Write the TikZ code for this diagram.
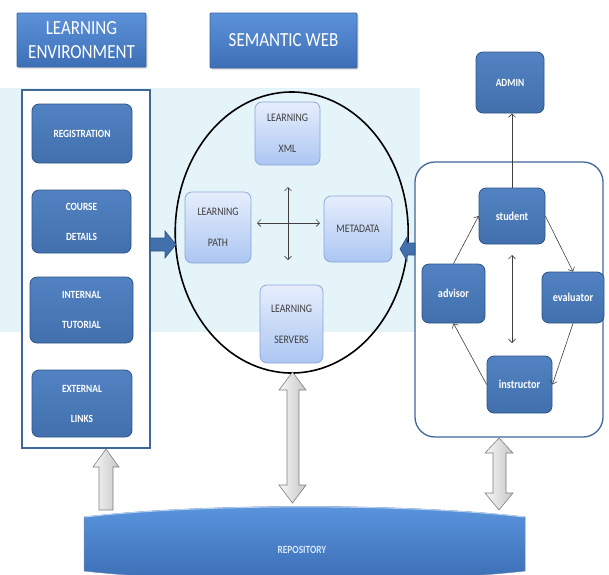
\documentclass[tikz,border=0pt]{standalone}
\usepackage{fontspec}
\setmainfont{Carlito}
\newfontfamily\cf[FakeStretch=0.85]{Carlito}
\usetikzlibrary{arrows.meta,shadows,calc,shapes.geometric}
\definecolor{titletop}{HTML}{5C92DA}
\definecolor{titlebot}{HTML}{3D6FB6}
\definecolor{titleedge}{HTML}{3A62A0}
\definecolor{dtop}{HTML}{5282C2}
\definecolor{dbot}{HTML}{4270AD}
\definecolor{dedge}{HTML}{2E5487}
\definecolor{ltop}{HTML}{E6EEFC}
\definecolor{lbot}{HTML}{ACC6F2}
\definecolor{ledge}{HTML}{8AA6D8}
\definecolor{framec}{HTML}{41669C}
\definecolor{txtd}{HTML}{3F3F3F}
\definecolor{lnk}{HTML}{404040}
\definecolor{bgc}{HTML}{E5F4F8}
\definecolor{gedge}{HTML}{7F7F7F}
\definecolor{repotop}{HTML}{5A95DE}
\definecolor{repobot}{HTML}{3A6DB4}
\definecolor{repotxt}{HTML}{D8E6F7}
\begin{document}
\begin{tikzpicture}[x=1pt,y=-1pt,
  titlebox/.style={draw=titleedge, line width=0.8pt, rounded corners=1pt, top color=titletop, bottom color=titlebot, text=white, align=center, inner sep=0pt, font=\cf\fontsize{20}{24}\selectfont, drop shadow={opacity=0.3,shadow xshift=1.5pt,shadow yshift=-1.5pt}},
  darkbox/.style={draw=dedge, line width=0.8pt, rounded corners=7pt, top color=dtop, bottom color=dbot, text=white, align=center, inner sep=0pt, font=\cf\bfseries\fontsize{11}{30}\selectfont},
  rolebox/.style={darkbox, font=\cf\bfseries\fontsize{12}{14}\selectfont},
  lightbox/.style={draw=ledge, line width=0.7pt, rounded corners=7pt, top color=ltop, bottom color=lbot, text=txtd, align=center, inner sep=0pt, font=\cf\fontsize{11.5}{31}\selectfont},
  conn/.style={draw=lnk, line width=0.6pt, -{Straight Barb[length=3.5pt,width=7pt]}},
  dconn/.style={draw=lnk, line width=0.6pt, {Straight Barb[length=3.5pt,width=7pt]}-{Straight Barb[length=3.5pt,width=7pt]}},
  garrow/.style={draw=gedge, line width=0.6pt, left color=gray!6, right color=gray!45},
  barrow/.style={draw=dedge, line width=0.6pt, fill=dbot}
]
\useasboundingbox (0,0) rectangle (609,574);
% faint background band
\fill[bgc] (0,88) rectangle (420,332);

% titles
\node[titlebox, minimum width=129pt, minimum height=54pt] (le) at (81.5,40) {LEARNING\\ENVIRONMENT};
\node[titlebox, minimum width=147pt, minimum height=55pt] (sw) at (283.5,40.5) {SEMANTIC WEB};

% left frame
\node[draw=framec, line width=1.3pt, fill=white, minimum width=128pt, minimum height=358pt, inner sep=0pt] (leftframe) at (86,269) {};
\node[darkbox, minimum width=100pt, minimum height=59pt] (reg) at (82,133.5) {REGISTRATION};
\node[darkbox, minimum width=99pt, minimum height=63pt] (cd) at (81.5,221.5) {COURSE\\DETAILS};
\node[darkbox, minimum width=103pt, minimum height=66pt] (it) at (81.5,310) {INTERNAL\\TUTORIAL};
\node[darkbox, minimum width=100pt, minimum height=67pt] (el) at (82,403.5) {EXTERNAL\\LINKS};

% ellipse
\node[draw=black, line width=1.6pt, ellipse, minimum width=233pt, minimum height=281pt, inner sep=0pt] (sem) at (291.7,232.5) {};
\node[lightbox, minimum width=65pt, minimum height=63pt] (xml) at (287.5,133.5) {LEARNING\\XML};
\node[lightbox, minimum width=66pt, minimum height=71pt] (path) at (218,227.5) {LEARNING\\PATH};
\node[lightbox, minimum width=68pt, minimum height=66pt] (meta) at (358,229) {METADATA};
\node[lightbox, minimum width=63pt, minimum height=78pt] (serv) at (291.5,324) {LEARNING\\SERVERS};
\coordinate (hl) at (257,223);
\coordinate (hr) at (320,223);
\coordinate (vt) at (288,187);
\coordinate (vb) at (288,260);
\draw[dconn] (hl) -- (hr);
\draw[dconn] (vt) -- (vb);

% right frame
\node[draw=framec, line width=1.3pt, fill=white, rounded corners=20pt, minimum width=188pt, minimum height=275pt, inner sep=0pt] (rightframe) at (509,299.5) {};
\node[rolebox, minimum width=68pt, minimum height=61pt, font=\cf\bfseries\fontsize{11}{13}\selectfont] (admin) at (510,82.5) {ADMIN};
\node[rolebox, minimum width=66pt, minimum height=56pt] (student) at (512,216) {student};
\node[rolebox, minimum width=63pt, minimum height=59pt] (advisor) at (453.5,293.5) {advisor};
\node[rolebox, minimum width=62pt, minimum height=51pt] (evaluator) at (573,297.5) {evaluator};
\node[rolebox, minimum width=65pt, minimum height=57pt] (instructor) at (519.5,384.5) {instructor};
\draw[conn] (student.north) -- (student.north |- admin.south);
\draw[conn] (advisor.north) -- (student.west);
\draw[conn] (student.east) -- (evaluator.north);
\draw[conn] (evaluator.south) -- (instructor.east);
\draw[conn] (instructor.west) -- (advisor.south);
\coordinate (st) at (512,255);
\coordinate (sb) at (512,343);
\draw[dconn] (st) -- (sb);

% blue block arrows
\draw[barrow] (150,238) -- (165,238) -- (165,231) -- (176,244.5) -- (165,258) -- (165,251) -- (150,251) -- cycle;
\draw[barrow] (415,243) -- (407,243) -- (407,237) -- (400,249) -- (407,261) -- (407,255) -- (415,255) -- cycle;

% repository
\path[top color=repotop, bottom color=repobot, draw=dedge!70, line width=0.5pt]
  (84,517) .. controls (200,503) and (410,503) .. (525,517) -- (525,571) .. controls (410,584) and (200,584) .. (84,571) -- cycle;
\draw[white!55!repotop, line width=1pt] (85,517) .. controls (200,503.5) and (410,503.5) .. (524,517);
\node[text=repotxt, font=\cf\bfseries\fontsize{11}{13}\selectfont] (repo) at (302,550) {REPOSITORY};

% gray block arrows
\draw[garrow] (99,510) -- (99,467) -- (93,467) -- (106,449) -- (119,467) -- (113,467) -- (113,510) -- cycle;
\draw[garrow] (287,390) -- (279,390) -- (292.5,372) -- (306,390) -- (299,390) -- (299,485) -- (306,485) -- (292.5,503) -- (279,485) -- (287,485) -- cycle;
\draw[garrow] (493,453) -- (485,453) -- (499,438) -- (513,453) -- (506,453) -- (506,493) -- (513,493) -- (499,510) -- (485,493) -- (493,493) -- cycle;
\end{tikzpicture}
\end{document}
